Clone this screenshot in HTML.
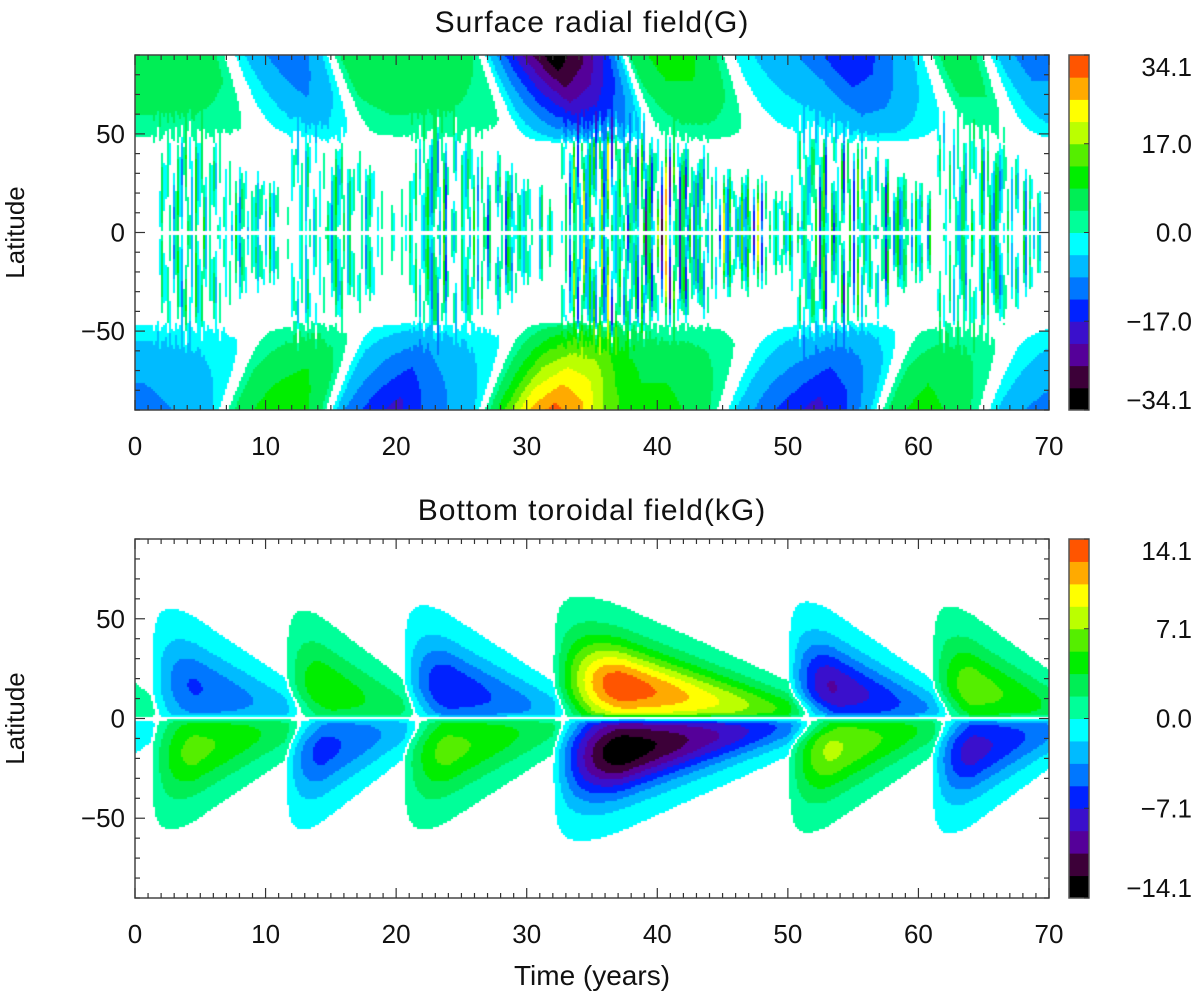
<!DOCTYPE html>
<html><head><meta charset="utf-8">
<style>
html,body{margin:0;padding:0;background:#fff;}
#wrap{position:relative;width:1200px;height:1001px;overflow:hidden;font-family:"Liberation Sans",sans-serif;}
canvas{position:absolute;}
</style></head>
<body>
<div id="wrap">
<canvas id="c1" width="914" height="355" style="left:135px;top:55px"></canvas>
<canvas id="c2" width="914" height="359" style="left:135px;top:539px"></canvas>
<svg id="ov" width="1200" height="1001" style="position:absolute;left:0;top:0"></svg>
</div>
<script>
// ---- data ----
const xTicks=[0,10,20,30,40,50,60,70];
const yTicks=[-50,0,50];
const cbColors=["#000000","#3c0038","#550099","#3a10cc","#0022ff","#0077ff","#00bbff","#00ffff","#00ff99","#00ee55","#00ee00","#55ee00","#bbff00","#ffff00","#ffaa00","#ff5500"];
const cbLabelsTop=["34.1","17.0","0.0","\u221217.0","\u221234.1"];
const cbLabelsBot=["14.1","7.1","0.0","\u22127.1","\u221214.1"];
const maxTop=34.1, maxBot=14.1;
// polar field samples (G)
const polarT=[0,3,6,8,10,12,14,16,18,20,22,24,26,28,30,32,34,36,38,40,42,44,46,48,50,52,54,56,58,60,62,64,66,68,70];
const northPolar=[8,8,5,-3,-8,-12,-6,6,8,8,8,6,4,-10,-22,-32,-26,-15,5,10,10,6,-2,-5,-7,-10,-16,-14,-8,-3,6,6,-4,-10,-10];
const southPolar=[-10,-8,-4,6,10,12,6,-8,-14,-18,-12,-8,-4,10,24,30,26,15,10,10,8,4,-4,-10,-14,-18,-14,-6,6,10,8,4,-4,-8,-10];
// toroidal cycles (kG)
const cycleStart=[-9,1.2,11.5,20.5,32,50,61];
const cycleEnd=[3,15,23.5,35,54,64,74];
const ampNorth=[3,-5.5,5,-7,14,-9,6.5];
const ampSouth=[-3,6,-6,6,-14,7.5,-8];

// ---- helpers ----
const T0=0,T1=70,L0=-90,L1=90;
function interp(xs,ys,x){if(x<=xs[0])return ys[0];for(let i=1;i<xs.length;i++){if(x<=xs[i]){const f=(x-xs[i-1])/(xs[i]-xs[i-1]);return ys[i-1]+f*(ys[i]-ys[i-1]);}}return ys[ys.length-1];}
function lobe(i,t,a){
  const d=cycleEnd[i]-cycleStart[i];const tau=(t-cycleStart[i])/d;
  if(tau<0||tau>1)return 0;
  const E=(tau<0.25?Math.sin(Math.PI/2*tau/0.25):Math.pow(1-(tau-0.25)/0.75,0.8));
  const c=20*Math.pow(1-tau,1.3)+2, w=30*Math.pow(1-tau,0.8)+5;
  return E*Math.exp(-2*Math.pow((a-c)/w,2));
}
function toroidal(t,lat){
  let v=0;const a=Math.abs(lat);
  for(let i=0;i<cycleStart.length;i++){
    const A=lat>=0?ampNorth[i]:ampSouth[i];
    v+=A*lobe(i,t,a);
  }
  return v*(1-Math.exp(-Math.pow(lat/1.5,2)));
}
function activity(t,lat){
  let m=0;const a=Math.abs(lat);
  for(let i=0;i<cycleStart.length;i++){
    m=Math.max(m,Math.abs(ampNorth[i])/7*Math.min(1,lobe(i,t,a*0.8)*1.6));
  }
  return Math.min(m,1.6);
}
function surface(t,lat){
  const a=Math.abs(lat);
  const lag=(90-a)/45*2.5;
  const P=lat>=0?interp(polarT,northPolar,t-lag):interp(polarT,southPolar,t-lag);
  const pw=Math.max(0,(a-45)/45);
  let v=P*Math.pow(pw,0.6)*1.05;
  const act=activity(t,lat);
  let s=Math.sin(t*7.3+Math.sin(t*1.7)*2)*Math.cos(t*17.9+a*0.05)+0.4*Math.sin(t*31.1);
  s=s*Math.sqrt(Math.abs(s));
  v+=act*10*s*(a<58?1:Math.max(0,1-(a-58)/8));
  if(a<1.2)v=0;
  return v;
}
function col(v,max,thr){
  if(Math.abs(v)<thr)return null;
  const step=max/8;let k=Math.floor(v/step)+8;k=Math.max(0,Math.min(15,k));return cbColors[k];
}
function paint(id,fn,max,thr){
  const cv=document.getElementById(id),ctx=cv.getContext('2d');
  const W=cv.width,H=cv.height,cs=2;
  ctx.fillStyle='#fff';ctx.fillRect(0,0,W,H);
  for(let x=0;x<W;x+=cs){const t=T0+(x+cs/2)/W*(T1-T0);
    for(let y=0;y<H;y+=cs){const lat=L1-(y+cs/2)/H*(L1-L0);
      const c=col(fn(t,lat),max,thr);if(c){ctx.fillStyle=c;ctx.fillRect(x,y,cs,cs);}}}
}
paint('c1',surface,maxTop,1.8);
paint('c2',toroidal,maxBot,0.3);

// ---- axes ----
const NS='http://www.w3.org/2000/svg',svg=document.getElementById('ov');
function mk(tag,attrs,txt){const e=document.createElementNS(NS,tag);for(const k in attrs)e.setAttribute(k,attrs[k]);if(txt!=null)e.textContent=txt;svg.appendChild(e);return e;}
function axes(px,py,pw,ph,name,cbLabels){
  const xs=t=>px+(t-T0)/(T1-T0)*pw, ys=l=>py+(L1-l)/(L1-L0)*ph;
  let r=mk('rect',{x:px,y:py,width:pw,height:ph,fill:'none',stroke:'#444','stroke-width':1.5});
  
  for(let t=T0;t<=T1;t++){const L=(t%10===0)?10:5;
    mk('line',{x1:xs(t),x2:xs(t),y1:py+ph,y2:py+ph-L,stroke:'#333','stroke-width':1.2});
    mk('line',{x1:xs(t),x2:xs(t),y1:py,y2:py+L,stroke:'#333','stroke-width':1.2});}
  for(let l=-90;l<=90;l+=10){const L=(l%50===0)?10:5;
    mk('line',{x1:px,x2:px+L,y1:ys(l),y2:ys(l),stroke:'#333','stroke-width':1.2});
    mk('line',{x1:px+pw,x2:px+pw-L,y1:ys(l),y2:ys(l),stroke:'#333','stroke-width':1.2});}
  xTicks.forEach(t=>{const e=mk('text',{x:xs(t),y:py+ph+45,'text-anchor':'middle','font-size':26,fill:'#111'},String(t));
    });
  yTicks.forEach(l=>{const e=mk('text',{x:px-10,y:ys(l)+9,'text-anchor':'end','font-size':26,fill:'#111'},l<0?'\u2212'+(-l):String(l));
    });
  const yl=mk('text',{x:0,y:0,transform:`translate(24,${py+ph/2}) rotate(-90)`,'text-anchor':'middle','font-size':26,fill:'#111'},'Latitude');
  
  const cx=1069,cw=20,bh=ph/16;
  cbColors.forEach((c,i)=>{const e=mk('rect',{x:cx,y:py+ph-(i+1)*bh,width:cw,height:bh+0.5,fill:c});
    });
  mk('rect',{x:cx,y:py,width:cw,height:ph,fill:'none',stroke:'#555','stroke-width':1.5});
  const ly=[py+12,py+ph/4,py+ph/2,py+3*ph/4,py+ph-10];
  cbLabels.forEach((s,i)=>{mk('line',{x1:cx+cw-5,x2:cx+cw,y1:py+i*ph/4,y2:py+i*ph/4,stroke:'#333'});
    const e=mk('text',{x:1192,y:ly[i]+9,'text-anchor':'end','font-size':26,fill:'#111'},s);
    });
}
axes(135,55,914,355,'top-plot',cbLabelsTop);
axes(135,539,914,359,'bottom-plot',cbLabelsBot);
let e;
e=mk('text',{x:592,y:32,'text-anchor':'middle','font-size':30,fill:'#111','letter-spacing':1},'Surface radial field(G)');

e=mk('text',{x:592,y:520,'text-anchor':'middle','font-size':30,fill:'#111','letter-spacing':1},'Bottom toroidal field(kG)');

e=mk('text',{x:592,y:985,'text-anchor':'middle','font-size':28,fill:'#111'},'Time (years)');

</script>
</body></html>
